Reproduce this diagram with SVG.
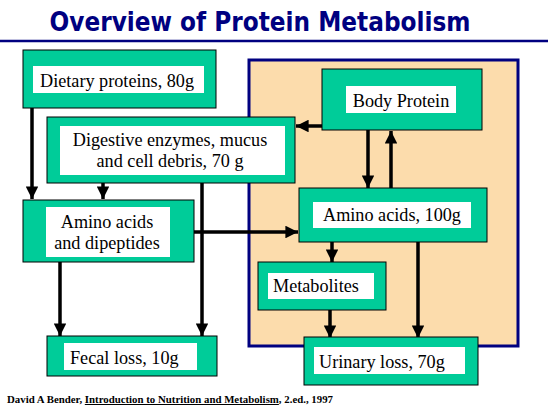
<svg xmlns="http://www.w3.org/2000/svg" width="548" height="414" viewBox="0 0 548 414">
<defs>
<style>
.box{fill:#00CC99;stroke:#000;stroke-width:1}
.in{fill:#fff}
.t{font-family:"Liberation Serif","DejaVu Serif","Times New Roman",serif;font-size:18.2px;fill:#000}
.c{stroke:#000;stroke-width:3.5;fill:none}
</style>
<marker id="ah" viewBox="0 0 10 10" refX="10" refY="5" markerWidth="3.6" markerHeight="3.6" orient="auto" markerUnits="strokeWidth">
<path d="M0,0 L10,5 L0,10 Z" fill="#000"/>
</marker>
</defs>
<rect width="548" height="414" fill="#fff"/>
<text x="260" y="31" text-anchor="middle" font-family="'DejaVu Sans',Verdana,sans-serif" font-weight="bold" font-size="26" fill="#000080" textLength="421" lengthAdjust="spacingAndGlyphs">Overview of Protein Metabolism</text>
<line x1="0" y1="41" x2="548" y2="41" stroke="#000080" stroke-width="2.5"/>
<rect x="249" y="60" width="269" height="286" fill="#FCDCAC" stroke="#000080" stroke-width="3"/>

<g id="connectors">
<line class="c" x1="32" y1="108" x2="32" y2="199" marker-end="url(#ah)"/>
<line class="c" x1="103" y1="183" x2="103" y2="199" marker-end="url(#ah)"/>
<line class="c" x1="202" y1="183" x2="202" y2="336" marker-end="url(#ah)"/>
<line class="c" x1="60" y1="262" x2="60" y2="336" marker-end="url(#ah)"/>
<line class="c" x1="194" y1="232" x2="298" y2="232" marker-end="url(#ah)"/>
<line class="c" x1="322" y1="126" x2="296" y2="126" marker-end="url(#ah)"/>
<line class="c" x1="368" y1="130" x2="368" y2="188" marker-end="url(#ah)"/>
<line class="c" x1="391" y1="188" x2="391" y2="131" marker-end="url(#ah)"/>
<line class="c" x1="332" y1="242" x2="332" y2="262" marker-end="url(#ah)"/>
<line class="c" x1="330" y1="310" x2="330" y2="338" marker-end="url(#ah)"/>
<line class="c" x1="418" y1="242" x2="418" y2="338" marker-end="url(#ah)"/>
</g>

<g id="dietary">
<rect class="box" x="23" y="50" width="193" height="58"/>
<rect class="in" x="33" y="66" width="171" height="27"/>
<text class="t" x="40" y="87">Dietary proteins, 80g</text>
</g>
<g id="digestive">
<rect class="box" x="47" y="117" width="248" height="66"/>
<rect class="in" x="60" y="126" width="225" height="49"/>
<text class="t" x="170" y="146" text-anchor="middle">Digestive enzymes, mucus</text>
<text class="t" x="170" y="167" text-anchor="middle">and cell debris, 70 g</text>
</g>
<g id="aminodi">
<rect class="box" x="23" y="200" width="171" height="62"/>
<rect class="in" x="46" y="207" width="124" height="50"/>
<text class="t" x="107" y="228" text-anchor="middle">Amino acids</text>
<text class="t" x="107" y="249" text-anchor="middle">and dipeptides</text>
</g>
<g id="fecal">
<rect class="box" x="47" y="336" width="170" height="40"/>
<rect class="in" x="64" y="343" width="133" height="27"/>
<text class="t" x="70" y="364">Fecal loss, 10g</text>
</g>
<g id="body">
<rect class="box" x="322" y="69" width="160" height="61"/>
<rect class="in" x="346" y="86" width="110" height="27"/>
<text class="t" x="401" y="107" text-anchor="middle">Body Protein</text>
</g>
<g id="amino100">
<rect class="box" x="299" y="188" width="188" height="54"/>
<rect class="in" x="313" y="202" width="158" height="26"/>
<text class="t" x="392" y="221" text-anchor="middle">Amino acids, 100g</text>
</g>
<g id="metabolites">
<rect class="box" x="258" y="262" width="128" height="48"/>
<rect class="in" x="268" y="273" width="106" height="26"/>
<text class="t" x="273" y="292">Metabolites</text>
</g>
<g id="urinary">
<rect class="box" x="304" y="337" width="174" height="48"/>
<rect class="in" x="314" y="347" width="151" height="27"/>
<text class="t" x="319" y="368">Urinary loss, 70g</text>
</g>

<text x="7" y="403" font-family="'Liberation Serif','DejaVu Serif','Times New Roman',serif" font-weight="bold" font-size="10" fill="#000" textLength="326" lengthAdjust="spacingAndGlyphs">David A Bender, <tspan text-decoration="underline">Introduction to Nutrition and Metabolism</tspan>, 2.ed., 1997</text>
</svg>
